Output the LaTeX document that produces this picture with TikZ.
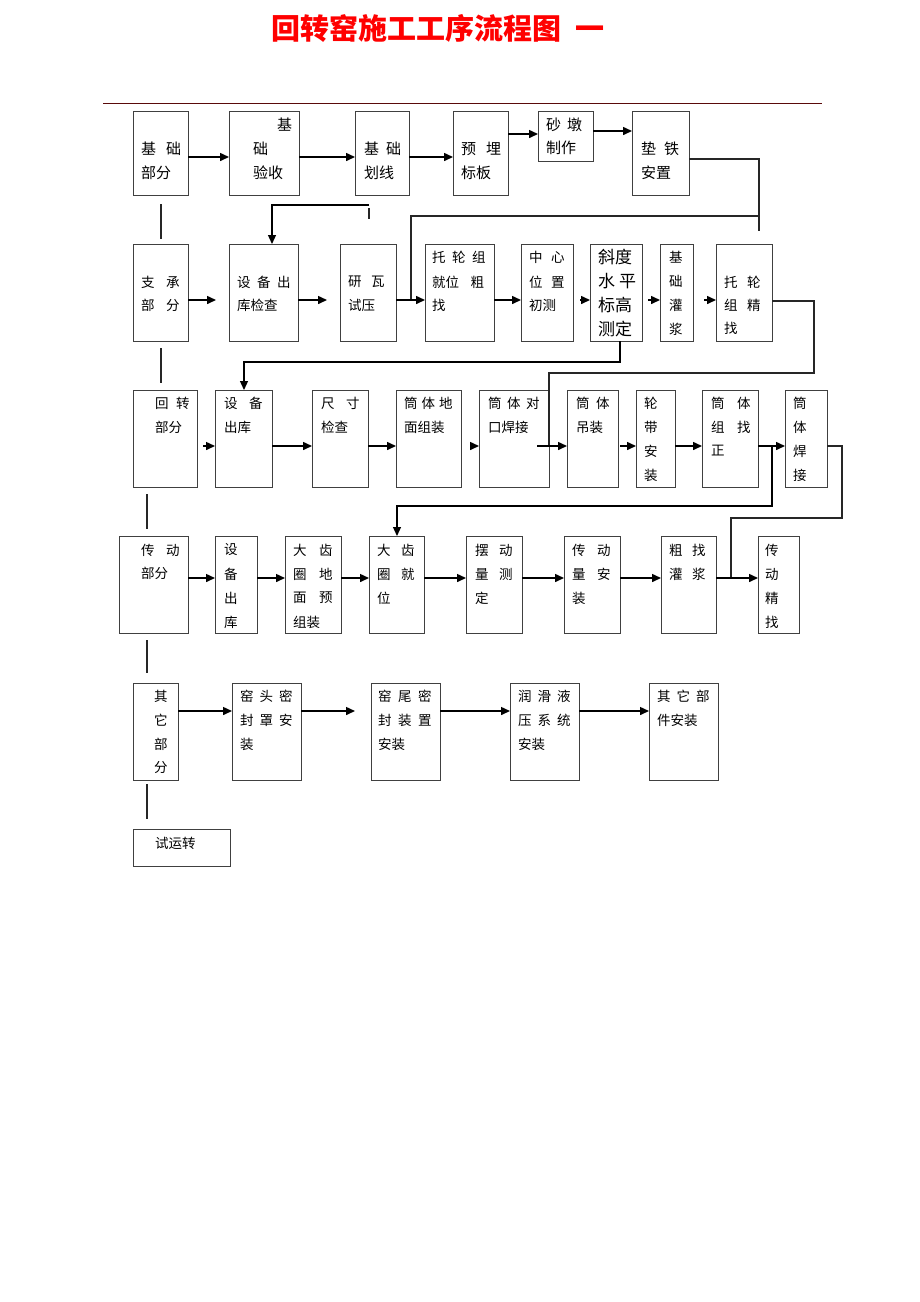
\documentclass[tikz,border=0pt]{standalone}
\usepackage{fontspec}
\newfontfamily\cjk{Noto Sans CJK SC}
\usetikzlibrary{arrows.meta}
\newcommand\gapS{\hspace{6.5pt}}
\newcommand\gapL{\hspace{11.5pt}}
\newcommand\gapM{\hspace{9.5pt}}
\newcommand\bx[5]{\node[box, minimum width={(#4-#2)*1pt}, minimum height={(#5-#3)*1pt}] (#1) at (#2,#3) {};}
\newcommand\mytext[5][]{\node[tx,#1] (#2) at (#3,#4) {#5};}
\begin{document}
\begin{tikzpicture}[x=1pt,y=-1pt,
  box/.style={draw=black!75, line width=1pt, anchor=north west, inner sep=0pt, outer sep=0pt},
  tx/.style={anchor=west, inner sep=0pt, font=\cjk\fontsize{13.5}{16}\selectfont},
  big/.style={font=\cjk\fontsize{15}{18}\selectfont},
  huge/.style={font=\cjk\fontsize{17}{20}\selectfont},
  arr/.style={-{Triangle[length=9pt,width=8pt]}, line width=1.5pt, black},
  ln/.style={line width=1.2pt, black!85}]
\useasboundingbox (0,0) rectangle (920,1302);
\fill[white] (0,0) rectangle (920,1302);

% title and rule
\node[anchor=west, inner sep=0pt, text=red, font=\cjk\bfseries\fontsize{29}{32}\selectfont] (title) at (271,28) {回转窑施工工序流程图\hspace{14pt}一};
\draw[line width=1pt, color={rgb,255:red,90;green,10;blue,10}] (103,103) -- (822,103);

% boxes row 1
\bx{a1}{133}{111}{188}{195}
\bx{a2}{229}{111}{299}{195}
\bx{a3}{355}{111}{409}{195}
\bx{a4}{453}{111}{508}{195}
\bx{a5}{538}{111}{593}{161}
\bx{a6}{632}{111}{689}{195}
% row 2
\bx{b1}{133}{244}{188}{341}
\bx{b2}{229}{244}{298}{341}
\bx{b3}{340}{244}{396}{341}
\bx{b5}{425}{244}{494}{341}
\bx{b6}{521}{244}{573}{341}
\bx{b7}{590}{244}{642}{341}
\bx{b8}{660}{244}{693}{341}
\bx{b9}{716}{244}{772}{341}
% row 3
\bx{c1}{133}{390}{197}{487}
\bx{c2}{215}{390}{272}{487}
\bx{c3}{312}{390}{368}{487}
\bx{c4}{396}{390}{461}{487}
\bx{c5}{479}{390}{549}{487}
\bx{c6}{567}{390}{618}{487}
\bx{c7}{636}{390}{675}{487}
\bx{c8}{702}{390}{758}{487}
\bx{c9}{785}{390}{827}{487}
% row 4
\bx{d1}{119}{536}{188}{633}
\bx{d2}{215}{536}{257}{633}
\bx{d3}{285}{536}{341}{633}
\bx{d4}{369}{536}{424}{633}
\bx{d5}{466}{536}{522}{633}
\bx{d6}{564}{536}{620}{633}
\bx{d7}{661}{536}{716}{633}
\bx{d8}{758}{536}{799}{633}
% row 5
\bx{e1}{133}{683}{178}{780}
\bx{e2}{232}{683}{301}{780}
\bx{e3}{371}{683}{440}{780}
\bx{e4}{510}{683}{579}{780}
\bx{e5}{649}{683}{718}{780}
\bx{f}{133}{829}{230}{866}

% texts row 1
\mytext[big]{a1t1}{141}{149}{基\hspace{10pt}础}
\mytext[big]{a1t2}{141}{173}{部分}
\mytext[big]{a2t1}{277}{125}{基}
\mytext[big]{a2t2}{253}{149}{础}
\mytext[big]{a2t3}{253}{173}{验收}
\mytext[big]{a3t1}{364}{149}{基\hspace{7pt}础}
\mytext[big]{a3t2}{364}{173}{划线}
\mytext[big]{a4t1}{461}{149}{预\hspace{10pt}埋}
\mytext[big]{a4t2}{461}{173}{标板}
\mytext[big]{a5t1}{546}{125}{砂\hspace{6pt}墩}
\mytext[big]{a5t2}{546}{148}{制作}
\mytext[big]{a6t1}{641}{149}{垫\hspace{8pt}铁}
\mytext[big]{a6t2}{641}{173}{安置}
% row 2
\mytext{b1t1}{141}{282}{支\gapL 承}
\mytext{b1t2}{141}{305}{部\gapL 分}
\mytext{b2t1}{237}{282}{设\gapS 备\gapS 出}
\mytext{b2t2}{237}{305}{库检查}
\mytext{b3t1}{348}{282}{研\gapM 瓦}
\mytext{b3t2}{348}{305}{试压}
\mytext{b5t1}{432}{257}{托\gapS 轮\gapS 组}
\mytext{b5t2}{432}{282}{就位\gapL 粗}
\mytext{b5t3}{432}{305}{找}
\mytext{b6t1}{529}{257}{中\hspace{8.5pt}心}
\mytext{b6t2}{529}{282}{位\hspace{8.5pt}置}
\mytext{b6t3}{529}{305}{初测}
\mytext[huge]{b7t1}{598}{257}{斜度}
\mytext[huge]{b7t2}{598}{281}{水\hspace{4pt}平}
\mytext[huge]{b7t3}{598}{305}{标高}
\mytext[huge]{b7t4}{598}{329}{测定}
\mytext{b8t1}{669}{257}{基}
\mytext{b8t2}{669}{281}{础}
\mytext{b8t3}{669}{305}{灌}
\mytext{b8t4}{669}{329}{浆}
\mytext{b9t1}{724}{282}{托\gapM 轮}
\mytext{b9t2}{724}{305}{组\gapM 精}
\mytext{b9t3}{724}{328}{找}
% row 3
\mytext{c1t1}{155}{403}{回\hspace{7.5pt}转}
\mytext{c1t2}{155}{427}{部分}
\mytext{c2t1}{224}{403}{设\gapL 备}
\mytext{c2t2}{224}{427}{出库}
\mytext{c3t1}{321}{403}{尺\gapL 寸}
\mytext{c3t2}{321}{427}{检查}
\mytext{c4t1}{404}{403}{筒\hspace{4pt}体\hspace{4pt}地}
\mytext{c4t2}{404}{427}{面组装}
\mytext{c5t1}{488}{403}{筒\hspace{5.5pt}体\hspace{5.5pt}对}
\mytext{c5t2}{488}{427}{口焊接}
\mytext{c6t1}{576}{403}{筒\gapS 体}
\mytext{c6t2}{576}{427}{吊装}
\mytext{c7t1}{644}{403}{轮}
\mytext{c7t2}{644}{427}{带}
\mytext{c7t3}{644}{451}{安}
\mytext{c7t4}{644}{475}{装}
\mytext{c8t1}{711}{403}{筒\hspace{12.5pt}体}
\mytext{c8t2}{711}{427}{组\hspace{12.5pt}找}
\mytext{c8t3}{711}{451}{正}
\mytext{c9t1}{793}{403}{筒}
\mytext{c9t2}{793}{427}{体}
\mytext{c9t3}{793}{451}{焊}
\mytext{c9t4}{793}{475}{接}
% row 4
\mytext{d1t1}{141}{550}{传\gapL 动}
\mytext{d1t2}{141}{573}{部分}
\mytext{d2t1}{224}{550}{设}
\mytext{d2t2}{224}{574}{备}
\mytext{d2t3}{224}{598}{出}
\mytext{d2t4}{224}{622}{库}
\mytext{d3t1}{293}{550}{大\hspace{12.5pt}齿}
\mytext{d3t2}{293}{574}{圈\hspace{12.5pt}地}
\mytext{d3t3}{293}{598}{面\hspace{12.5pt}预}
\mytext{d3t4}{293}{622}{组装}
\mytext{d4t1}{377}{550}{大\hspace{10.5pt}齿}
\mytext{d4t2}{377}{574}{圈\hspace{10.5pt}就}
\mytext{d4t3}{377}{598}{位}
\mytext{d5t1}{475}{550}{摆\hspace{10.5pt}动}
\mytext{d5t2}{475}{574}{量\hspace{10.5pt}测}
\mytext{d5t3}{475}{598}{定}
\mytext{d6t1}{572}{550}{传\gapL 动}
\mytext{d6t2}{572}{574}{量\gapL 安}
\mytext{d6t3}{572}{598}{装}
\mytext{d7t1}{669}{550}{粗\gapM 找}
\mytext{d7t2}{669}{574}{灌\gapM 浆}
\mytext{d8t1}{765}{550}{传}
\mytext{d8t2}{765}{574}{动}
\mytext{d8t3}{765}{598}{精}
\mytext{d8t4}{765}{622}{找}
% row 5
\mytext{e1t1}{154}{696}{其}
\mytext{e1t2}{154}{720}{它}
\mytext{e1t3}{154}{744}{部}
\mytext{e1t4}{154}{768}{分}
\mytext{e2t1}{240}{696}{窑\hspace{6pt}头\hspace{6pt}密}
\mytext{e2t2}{240}{720}{封\hspace{6pt}罩\hspace{6pt}安}
\mytext{e2t3}{240}{744}{装}
\mytext{e3t1}{378}{696}{窑\gapS 尾\gapS 密}
\mytext{e3t2}{378}{720}{封\gapS 装\gapS 置}
\mytext{e3t3}{378}{744}{安装}
\mytext{e4t1}{518}{696}{润\hspace{6pt}滑\hspace{6pt}液}
\mytext{e4t2}{518}{720}{压\hspace{6pt}系\hspace{6pt}统}
\mytext{e4t3}{518}{744}{安装}
\mytext{e5t1}{657}{696}{其\hspace{6pt}它\hspace{6pt}部}
\mytext{e5t2}{657}{720}{件安装}
\mytext{ft1}{155}{843}{试运转}

% level coordinates
\coordinate (y1) at (0,157);
\coordinate (y1b) at (0,134);
\coordinate (y1c) at (0,131);
\coordinate (y2) at (0,300);
\coordinate (y3) at (0,446);
\coordinate (y4) at (0,578);
\coordinate (y5) at (0,711);

% row 1 connectors
\draw[arr] (a1.east |- y1) -- (a2.west |- y1);
\draw[arr] (a2.east |- y1) -- (a3.west |- y1);
\draw[arr] (a3.east |- y1) -- (a4.west |- y1);
\draw[arr] (a4.east |- y1b) -- (a5.west |- y1b);
\draw[arr] (a5.east |- y1c) -- (a6.west |- y1c);
\coordinate (k6a) at (759,159);
\coordinate (k6b) at (759,231);
\draw[ln] (a6.east |- k6a) -- (k6a) -- (k6b);
\coordinate (k6c) at (759,216);
\coordinate (k6d) at (411,216);
\draw[ln] (k6c) -- (k6d) -- (k6d |- y2);
\coordinate (k3a) at (369,205);
\coordinate (k3b) at (272,205);
\draw[arr, line width=1.2pt] (k3a) -- (k3b) -- (k3b |- b2.north);
\coordinate (k3c) at (369,208);
\coordinate (k3d) at (369,219);
\draw[ln] (k3c) -- (k3d);

% vertical stubs of the left column
\coordinate (v1a) at (161,204); \coordinate (v1b) at (161,239);
\coordinate (v2a) at (161,348); \coordinate (v2b) at (161,383);
\coordinate (v3a) at (147,494); \coordinate (v3b) at (147,529);
\coordinate (v4a) at (147,640); \coordinate (v4b) at (147,673);
\coordinate (v5a) at (147,784); \coordinate (v5b) at (147,819);
\draw[ln] (v1a) -- (v1b);
\draw[ln] (v2a) -- (v2b);
\draw[ln] (v3a) -- (v3b);
\draw[ln] (v4a) -- (v4b);
\draw[ln] (v5a) -- (v5b);

% row 2 connectors
\coordinate (b1e) at (216,300);
\draw[arr] (b1.east |- y2) -- (b1e);
\coordinate (b2e) at (327,300);
\draw[arr] (b2.east |- y2) -- (b2e);
\draw[arr] (b3.east |- y2) -- (b5.west |- y2);
\draw[arr] (b5.east |- y2) -- (b6.west |- y2);
\coordinate (b6s) at (580,300);
\draw[arr] (b6s) -- (b7.west |- y2);
\coordinate (b7s) at (648,300);
\draw[arr] (b7s) -- (b8.west |- y2);
\coordinate (b8s) at (704,300);
\draw[arr] (b8s) -- (b9.west |- y2);
\coordinate (p1) at (620,362);
\coordinate (p2) at (244,362);
\draw[arr, line width=1.2pt] (b7.south -| p1) -- (p1) -- (p2) -- (p2 |- c2.north);
\coordinate (q1) at (814,301);
\coordinate (q2) at (814,373);
\coordinate (q3) at (549,373);
\coordinate (q4) at (549,446);
\draw[ln] (b9.east |- q1) -- (q1) -- (q2) -- (q3) -- (q4);

% row 3 connectors
\coordinate (c1s) at (203,446);
\draw[arr] (c1s) -- (c2.west |- y3);
\draw[arr] (c2.east |- y3) -- (c3.west |- y3);
\draw[arr] (c3.east |- y3) -- (c4.west |- y3);
\coordinate (c4s) at (471,446);
\draw[arr] (c4s) -- (c5.west |- y3);
\coordinate (c5s) at (537,446);
\draw[arr] (c5s) -- (c6.west |- y3);
\coordinate (c6s) at (620,446);
\draw[arr] (c6s) -- (c7.west |- y3);
\draw[arr] (c7.east |- y3) -- (c8.west |- y3);
\draw[arr] (c8.east |- y3) -- (c9.west |- y3);
\coordinate (r1) at (772,446);
\coordinate (r2) at (772,506);
\coordinate (r3) at (397,506);
\draw[arr, line width=1.2pt] (r1) -- (r2) -- (r3) -- (r3 |- d4.north);
\coordinate (s1) at (842,446);
\coordinate (s2) at (842,518);
\coordinate (s3) at (731,518);
\coordinate (s4) at (731,578);
\draw[ln] (c9.east |- s1) -- (s1) -- (s2) -- (s3) -- (s4);

% row 4 connectors
\draw[arr] (d1.east |- y4) -- (d2.west |- y4);
\draw[arr] (d2.east |- y4) -- (d3.west |- y4);
\draw[arr] (d3.east |- y4) -- (d4.west |- y4);
\draw[arr] (d4.east |- y4) -- (d5.west |- y4);
\draw[arr] (d5.east |- y4) -- (d6.west |- y4);
\draw[arr] (d6.east |- y4) -- (d7.west |- y4);
\draw[arr] (d7.east |- y4) -- (d8.west |- y4);

% row 5 connectors
\draw[arr] (e1.east |- y5) -- (e2.west |- y5);
\coordinate (e2e) at (355,711);
\draw[arr] (e2.east |- y5) -- (e2e);
\draw[arr] (e3.east |- y5) -- (e4.west |- y5);
\draw[arr] (e4.east |- y5) -- (e5.west |- y5);
\end{tikzpicture}
\end{document}
